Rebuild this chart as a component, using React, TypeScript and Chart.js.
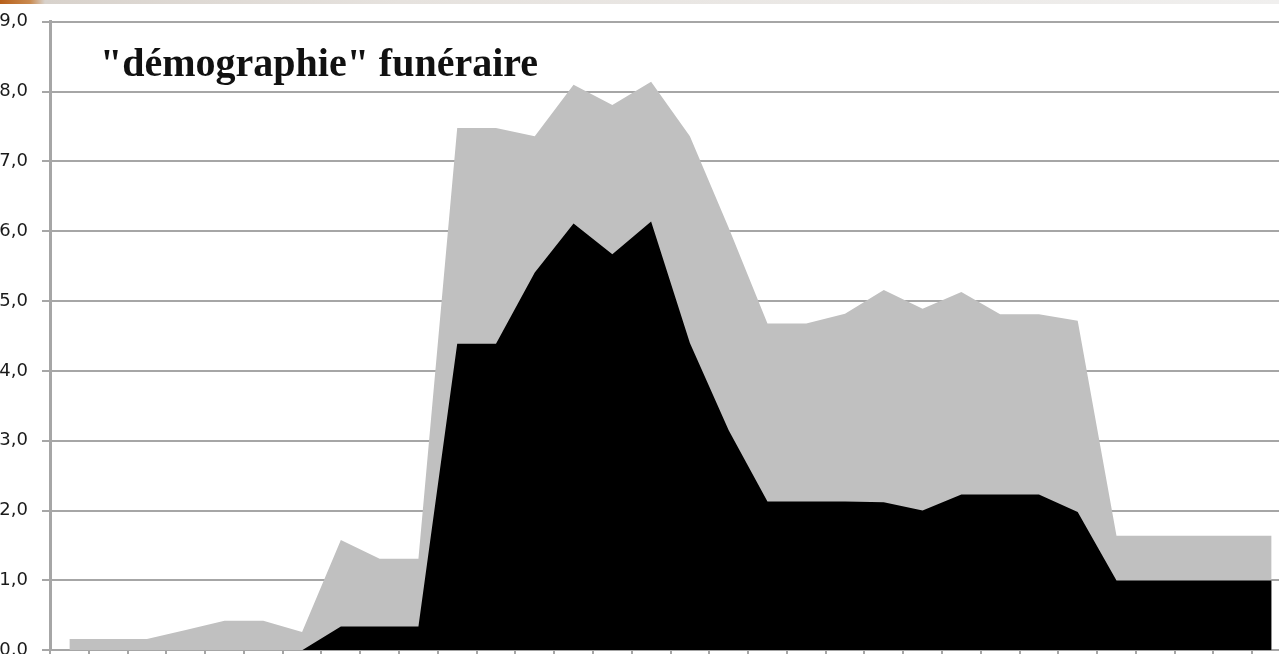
import React, { useEffect, useRef } from 'react';
import { Chart, registerables } from 'chart.js';

Chart.register(...registerables);

const categories = [
  'p01', 'p02', 'p03', 'p04', 'p05', 'p06', 'p07', 'p08',
  'p09', 'p10', 'p11', 'p12', 'p13', 'p14', 'p15', 'p16',
  'p17', 'p18', 'p19', 'p20', 'p21', 'p22', 'p23', 'p24',
  'p25', 'p26', 'p27', 'p28', 'p29', 'p30', 'p31', 'p32',
];

const greyValues = [
  0.16, 0.16, 0.16, 0.29, 0.42, 0.42, 0.26, 1.58,
  1.31, 1.31, 7.48, 7.48, 7.36, 8.10, 7.81, 8.14,
  7.36, 6.05, 4.68, 4.68, 4.82, 5.16, 4.89, 5.13,
  4.81, 4.81, 4.72, 1.64, 1.64, 1.64, 1.64, 1.64,
];

const blackValues = [
  0, 0, 0, 0, 0, 0, 0, 0.34,
  0.34, 0.34, 4.39, 4.39, 5.41, 6.11, 5.67, 6.14,
  4.40, 3.15, 2.13, 2.13, 2.13, 2.12, 2.00, 2.23,
  2.23, 2.23, 1.98, 1.00, 1.00, 1.00, 1.00, 1.00,
];

const yTickLabels = ['0,0', '1,0', '2,0', '3,0', '4,0', '5,0', '6,0', '7,0', '8,0', '9,0'];

const titleText = '"démographie" funéraire';

export default function App() {
  const canvasRef = useRef<HTMLCanvasElement | null>(null);

  useEffect(() => {
    const canvas = canvasRef.current;
    if (!canvas) return;
    const gridColor = '#a6a6a6';
    const chart = new Chart(canvas, {
      type: 'line',
      data: {
        labels: categories,
        datasets: [
          {
            label: 'noir',
            data: blackValues,
            fill: 'origin',
            backgroundColor: '#000000',
            borderColor: '#000000',
            borderWidth: 0,
            pointRadius: 0,
            tension: 0,
          },
          {
            label: 'gris',
            data: greyValues,
            fill: 'origin',
            backgroundColor: '#c0c0c0',
            borderColor: '#c0c0c0',
            borderWidth: 0,
            pointRadius: 0,
            tension: 0,
          },
        ],
      },
      options: {
        responsive: false,
        animation: false,
        layout: { padding: { top: 16, right: 0, bottom: 0, left: 0 } },
        plugins: {
          legend: { display: false },
          tooltip: { enabled: false },
          title: { display: false },
        },
        scales: {
          x: {
            type: 'category',
            offset: true,
            grid: {
              display: true,
              drawOnChartArea: false,
              drawTicks: true,
              tickLength: 8,
              color: gridColor,
              lineWidth: 2,
              offset: true,
            },
            border: { display: true, color: gridColor, width: 2 },
            ticks: { display: false },
            afterFit: (scale: any) => {
              scale.height = 16;
            },
          },
          y: {
            min: 0,
            max: 9,
            grid: {
              color: gridColor,
              lineWidth: 2,
              tickLength: 8,
              drawTicks: true,
            },
            border: { display: true, color: gridColor, width: 3 },
            ticks: {
              stepSize: 1,
              padding: 14,
              color: '#1a1a1a',
              font: { family: '"DejaVu Sans", sans-serif', size: 18 },
              callback: (_v: any, index: number) => yTickLabels[index],
            },
            afterFit: (scale: any) => {
              scale.width = 50;
            },
          },
        },
      },
    });
    return () => chart.destroy();
  }, []);

  return (
    <div
      style={{
        position: 'fixed',
        left: 0,
        top: 0,
        width: 1279,
        height: 654,
        overflow: 'hidden',
        background: '#ffffff',
      }}
    >
      <canvas ref={canvasRef} width={1291} height={678} style={{ position: 'absolute', left: 0, top: -3 }} />
      <div
        style={{
          position: 'absolute',
          left: 0,
          top: 0,
          width: 1279,
          height: 4,
          background: 'linear-gradient(to right, #b8601a 0px, #c98a50 30px, #d8d2cc 45px, #e6e2de 400px, #f0efee 1279px)',
        }}
      />
      <div
        style={{
          position: 'absolute',
          left: 100,
          top: 43,
          fontFamily: '"Liberation Serif", serif',
          fontWeight: 'bold',
          fontSize: 40,
          lineHeight: '40px',
          color: '#111111',
          whiteSpace: 'nowrap',
        }}
      >
        {titleText}
      </div>
    </div>
  );
}
